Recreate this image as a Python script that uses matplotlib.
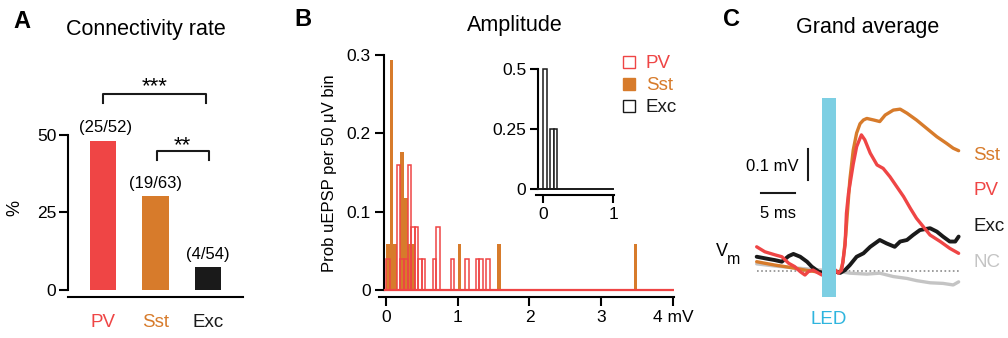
import matplotlib
matplotlib.use("Agg")
import matplotlib.pyplot as plt
import numpy as np
from matplotlib.lines import Line2D

plt.rcParams['font.family'] = ['Liberation Sans', 'DejaVu Sans']

# ---- colours
RED = '#ef4545'
ORANGE = '#d77b2b'
BLACK = '#1a1a1a'
GRAY = '#c4c4c4'
LED_BLUE = '#7dcfe3'
LED_TEXT = '#2fb5de'

# ---- panel A: connectivity rate
cell_types = ['PV', 'Sst', 'Exc']
n_connected = [25, 19, 4]
n_tested = [52, 63, 54]

# ---- panel B: amplitude histograms (50 uV bins, bin index -> count)
bin_w = 0.05
pv_bins = [0, 3, 4, 5, 6, 7, 8, 9, 10, 13, 14, 18, 22, 25, 26, 28]
pv_counts = [1, 4, 1, 1, 4, 2, 2, 1, 1, 1, 2, 1, 1, 1, 1, 1]
sst_bins = [0, 1, 2, 4, 5, 6, 7, 20, 31, 69]
sst_counts = [1, 5, 1, 3, 2, 1, 1, 1, 1, 1]
exc_bins = [0, 2, 3]
exc_counts = [2, 1, 1]

# ---- panel C: grand average traces (ms, mV)
led_on = 9.7
led_dur = 2.0
pv_t = [0.1, 1.3, 2.8, 3.8, 4.8, 5.7, 6.5, 7.2, 7.7, 8.4, 9.2, 9.7, 10.7, 11.7, 12.1, 12.6,
        13.1, 13.3, 13.6, 14.3, 14.8, 15.5, 16.0, 16.8, 17.8, 18.7, 19.7, 20.7, 21.7, 22.7,
        23.6, 24.6, 25.6, 27.1, 28.5, 29.8]
pv_v = [0.078, 0.062, 0.052, 0.046, 0.025, 0.014, -0.002, -0.013, -0.002, 0.003, -0.007, -0.013,
        -0.008, 0.003, -0.007, 0.003, 0.084, 0.186, 0.250, 0.345, 0.401, 0.439, 0.423, 0.380,
        0.342, 0.331, 0.304, 0.272, 0.240, 0.202, 0.170, 0.143, 0.116, 0.095, 0.073, 0.057]
sst_t = [0.1, 1.3, 2.8, 4.3, 5.7, 7.2, 8.7, 9.7, 11.8, 12.4, 12.8, 13.2, 13.8, 14.3, 14.8,
         15.3, 15.8, 16.3, 17.3, 18.2, 19.0, 20.2, 21.2, 22.2, 23.6, 25.1, 26.6, 28.0, 29.0, 29.8]
sst_v = [0.030, 0.025, 0.019, 0.014, 0.009, 0.003, -0.002, -0.005, -0.003, -0.003, 0.029, 0.116,
         0.294, 0.390, 0.445, 0.475, 0.487, 0.492, 0.487, 0.482, 0.503, 0.519, 0.522, 0.509,
         0.487, 0.460, 0.433, 0.412, 0.396, 0.388]
exc_t = [0.1, 1.3, 2.8, 3.8, 4.8, 5.5, 6.5, 7.5, 8.2, 9.2, 9.7, 11.8, 12.4, 13.1, 13.8, 14.8,
         15.8, 16.8, 18.2, 19.2, 20.4, 21.2, 22.2, 23.1, 24.1, 25.6, 26.6, 27.5, 28.5, 29.3, 29.8]
exc_v = [0.046, 0.041, 0.035, 0.030, 0.048, 0.055, 0.046, 0.030, 0.014, -0.002, -0.005, -0.003,
         -0.006, 0.003, 0.019, 0.046, 0.057, 0.078, 0.100, 0.089, 0.078, 0.095, 0.100, 0.116,
         0.132, 0.138, 0.127, 0.111, 0.095, 0.095, 0.111]
nc_t = [0.1, 2.8, 5.7, 7.9, 9.7, 11.8, 13.8, 16.3, 18.2, 20.2, 22.2, 23.6, 25.6, 27.5, 29.0, 29.8]
nc_v = [0.023, 0.016, 0.010, 0.006, 0.003, 0.0, -0.007, -0.010, -0.007, -0.018, -0.024, -0.031,
        -0.038, -0.040, -0.045, -0.035]

W, H = 1008, 338
fig = plt.figure(figsize=(W / 100, H / 100), dpi=100)


def px_axes(x0, y0, x1, y1):
    return fig.add_axes([x0 / W, 1 - y1 / H, (x1 - x0) / W, (y1 - y0) / H])


def ftext(px, py, s, **kw):
    return fig.text(px / W, 1 - py / H, s, **kw)


# ================= A
ax = px_axes(68, 50, 243, 297)
xa = np.arange(len(cell_types))
rate = 100 * np.array(n_connected) / np.array(n_tested)
ax.bar(xa, rate, width=0.51, color=[RED, ORANGE, BLACK])
ax.set_xlim(-0.667, 2.667)
ax.set_ylim(-2.26, 77.4)
for s in ['top', 'right']:
    ax.spines[s].set_visible(False)
ax.spines['left'].set_bounds(0, 50)
ax.spines['left'].set_linewidth(1.5)
ax.spines['bottom'].set_linewidth(1.5)
ax.set_yticks([0, 25, 50])
ax.tick_params(axis='y', length=6.5, width=1.5, labelsize=12.5, pad=2)
ax.set_xticks(xa, cell_types)
ax.tick_params(axis='x', length=0, labelsize=13.5, pad=12)
for lbl, c in zip(ax.get_xticklabels(), [RED, ORANGE, BLACK]):
    lbl.set_color(c)
ax.patch.set_alpha(0)
for i in range(3):
    ax.text(xa[i] + (0.05 if i == 0 else 0), rate[i] + 4.2, f'({n_connected[i]}/{n_tested[i]})',
            ha='center', va='center', fontsize=12)
# significance brackets
ax.plot([0, 0, 1.96, 1.96], [60.3, 63.2, 63.2, 60.3], color=BLACK, lw=1.5)
ax.text(0.98, 63.7, '***', ha='center', va='baseline', fontsize=16)
ax.plot([1.03, 1.03, 2.02, 2.02], [41.9, 44.8, 44.8, 41.9], color=BLACK, lw=1.5)
ax.text(1.52, 44.9, '**', ha='center', va='baseline', fontsize=16)
ftext(15, 208, '%', rotation=90, ha='center', va='center', fontsize=13)
ftext(22, 22, 'A', ha='center', va='center', fontsize=17, fontweight='bold')
ftext(146, 29, 'Connectivity rate', ha='center', va='center', fontsize=15.5)

# ================= B
ax = px_axes(379, 50, 674, 297)
ax.patch.set_alpha(0)
ax.bar(np.array(sst_bins) * bin_w, np.array(sst_counts) / sum(sst_counts), width=bin_w,
       align='edge', color=ORANGE, lw=0, zorder=2)
ax.plot([-0.02, 4.0], [0, 0], color=RED, lw=1.6, zorder=3)
ax.bar(np.array(pv_bins) * bin_w, np.array(pv_counts) / sum(pv_counts), width=bin_w,
       align='edge', fill=False, edgecolor=RED, lw=1.1, zorder=4)
ax.set_xlim(-0.0976, 4.014)
ax.set_ylim(-0.0089, 0.3065)
for s in ['top', 'right']:
    ax.spines[s].set_visible(False)
ax.spines['left'].set_position(('data', -0.028))
ax.spines['left'].set_bounds(0, 0.3)
ax.spines['left'].set_linewidth(1.5)
ax.spines['bottom'].set_linewidth(1.5)
ax.set_yticks([0, 0.1, 0.2, 0.3], ['0', '0.1', '0.2', '0.3'])
ax.set_xticks([0, 1, 2, 3, 4], ['0', '1', '2', '3', '4 mV'])
ax.tick_params(length=6.5, width=1.5, labelsize=12.5, pad=3)
ax.set_ylabel('Prob uEPSP per 50 μV bin', fontsize=12)
ax.yaxis.set_label_coords(-0.142, 0.5)
handles = [Line2D([], [], marker='s', ls='', mfc='white', mec=RED, ms=8, mew=1),
           Line2D([], [], marker='s', ls='', mfc=ORANGE, mec=ORANGE, ms=8, mew=1),
           Line2D([], [], marker='s', ls='', mfc='white', mec=BLACK, ms=8, mew=1)]
ax.legend(handles, ['PV', 'Sst', 'Exc'], loc='upper left', bbox_to_anchor=(612 / W, 1 - 46 / H),
          bbox_transform=fig.transFigure, frameon=False, fontsize=13.5, handlelength=0.8,
          handletextpad=0.5, labelspacing=0.25, borderpad=0, labelcolor=[RED, ORANGE, BLACK])
ftext(303, 19, 'B', ha='center', va='center', fontsize=17, fontweight='bold')
ftext(515, 25, 'Amplitude', ha='center', va='center', fontsize=15.5)

# inset: Exc
ax = px_axes(536, 58, 614, 195)
ax.patch.set_alpha(0)
ax.bar(np.array(exc_bins) * bin_w, np.array(exc_counts) / sum(exc_counts), width=bin_w,
       align='edge', facecolor='white', edgecolor=BLACK, lw=1.1, zorder=3)
ax.plot([-0.071, 1.0], [0, 0], color=BLACK, lw=1.4, zorder=4)
ax.set_xlim(-0.1, 1.014)
ax.set_ylim(-0.025, 0.546)
for s in ['top', 'right']:
    ax.spines[s].set_visible(False)
ax.spines['left'].set_position(('data', -0.071))
ax.spines['left'].set_bounds(0, 0.5)
ax.spines['left'].set_linewidth(1.5)
ax.spines['bottom'].set_linewidth(1.5)
ax.set_yticks([0, 0.25, 0.5], ['0', '0.25', '0.5'])
ax.set_xticks([0, 1], ['0', '1'])
ax.tick_params(length=5.5, width=1.5, labelsize=12.5, pad=3)

# ================= C
ax = px_axes(700, 80, 1008, 310)
ax.axis('off')
ax.set_xlim(-8.235, 37.06)
ax.set_ylim(-0.1258, 0.616)
ax.plot([nc_t[0], nc_t[-1]], [0, 0], ls=(0, (1, 1.5)), color='#8c8c8c', lw=1.2, zorder=1)
ax.plot(nc_t, nc_v, color=GRAY, lw=2.4, solid_capstyle='round', zorder=2)
ax.plot(sst_t, sst_v, color=ORANGE, lw=2.4, solid_capstyle='round', zorder=3)
ax.plot(exc_t, exc_v, color=BLACK, lw=2.8, solid_capstyle='round', zorder=4)
ax.plot(pv_t, pv_v, color=RED, lw=2.4, solid_capstyle='round', zorder=5)
ax.bar(led_on, 0.642, width=led_dur, bottom=-0.084, align='edge', color=LED_BLUE, lw=0, zorder=6)
ax.text(led_on + led_dur / 2, -0.158, 'LED', color=LED_TEXT, ha='center', va='center',
        fontsize=13.5, clip_on=False)
# scale bars
ax.plot([0.7, 5.7], [0.252, 0.252], color=BLACK, lw=1.5)
ax.plot([7.65, 7.65], [0.294, 0.394], color=BLACK, lw=1.5)
ax.text(6.2, 0.338, '0.1 mV', ha='right', va='center', fontsize=12)
ax.text(3.2, 0.187, '5 ms', ha='center', va='center', fontsize=12)
ax.text(-5.0, 0.062, 'V', ha='center', va='center', fontsize=13)
ax.text(-3.3, 0.036, 'm', ha='center', va='center', fontsize=11.5)
for lab, yv, c in [('Sst', 0.374, ORANGE), ('PV', 0.261, RED), ('Exc', 0.142, BLACK),
                   ('NC', 0.026, GRAY)]:
    ax.text(32.0, yv, lab, color=c, ha='left', va='center', fontsize=13.5)
ftext(731, 20, 'C', ha='center', va='center', fontsize=17, fontweight='bold')
ftext(868, 27, 'Grand average', ha='center', va='center', fontsize=15.5)

fig.savefig('out.png', dpi=100)
